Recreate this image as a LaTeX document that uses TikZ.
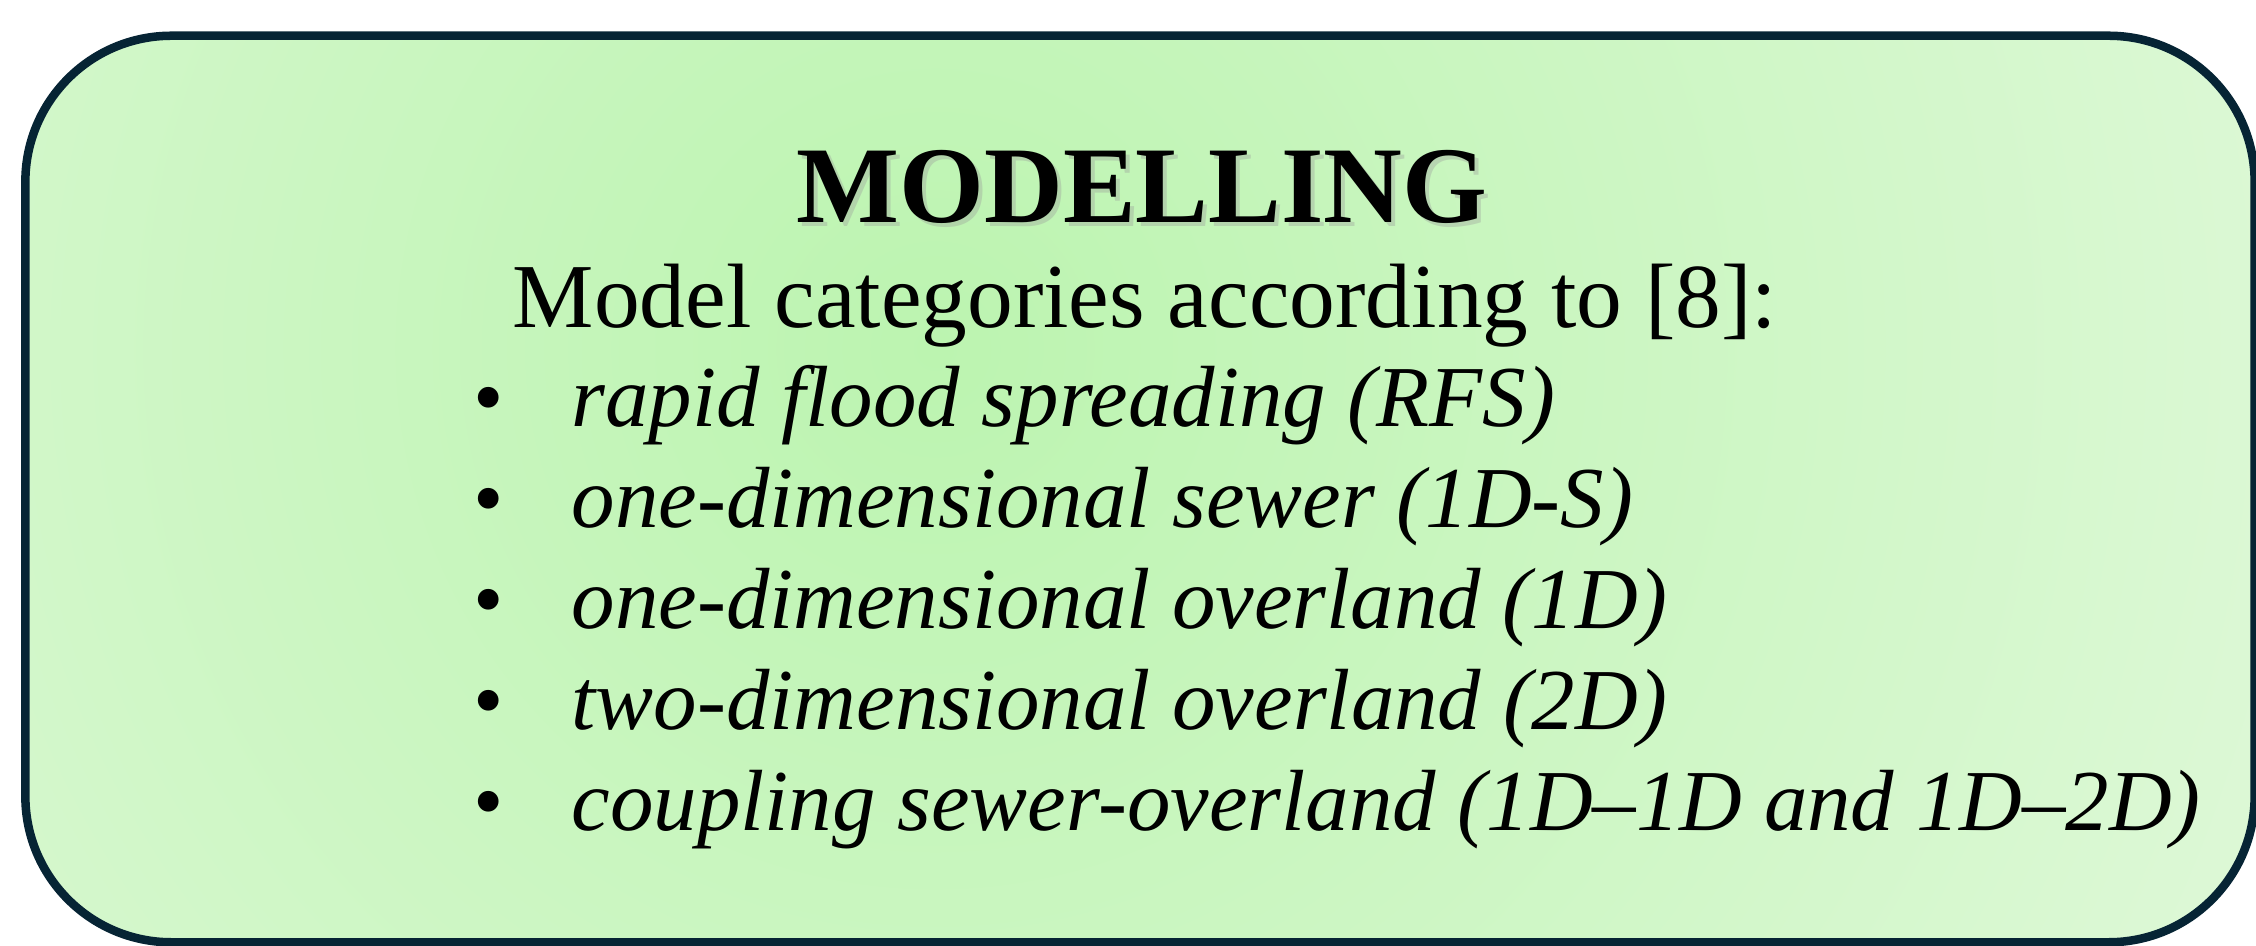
\documentclass[tikz,border=0pt]{standalone}
\usepackage{fontspec}
\setmainfont{Liberation Serif}
\usetikzlibrary{positioning}
\definecolor{boxline}{RGB}{6,36,52}
\definecolor{innergreen}{RGB}{188,244,176}
\definecolor{outergreen}{RGB}{232,250,227}
\begin{document}
\begin{tikzpicture}[x=0.01cm,y=-0.01cm]
\tikzset{
  frame/.style={draw=boxline, line width=0.085cm, rounded corners=1.46cm,
    minimum width=22.28cm, minimum height=9.06cm, inner sep=0pt,
    path picture={\shade[inner color=innergreen, outer color=outergreen]
      ([shift={(-205,-140)}]path picture bounding box.center) circle (1900);}},
  titletext/.style={anchor=base, inner sep=0pt, font=\fontsize{31}{37}\selectfont\bfseries},
  bodytext/.style={anchor=base, inner sep=0pt, font=\fontsize{26}{31}\selectfont},
  itemtext/.style={bodytext, anchor=base west, font=\fontsize{24.7}{30}\selectfont\itshape}
}
\useasboundingbox (0,0) rectangle (2256,946);
\node (frame) [frame] at (1140,489) {};
\node (shadow) [titletext, text=black!40, opacity=.35] at (1146,227) {MODELLING};
\node (title) [titletext] at (1142,223) {MODELLING};
\node (intro) [bodytext] at (1145,328) {Model categories according to [8]:};
\foreach \t [count=\i] in {rapid flood spreading (RFS),
  one-dimensional sewer (1D-S),
  one-dimensional overland (1D),
  two-dimensional overland (2D),
  coupling sewer-overland (1D--1D and 1D--2D)}{
  \node (item\i) [itemtext] at (571,{326+101*\i}) {\t};
  \node (dot\i) [bodytext, font=\fontsize{24.7}{30}\selectfont] at (489,{326+101*\i}) {\textbullet};
}
\end{tikzpicture}
\end{document}
